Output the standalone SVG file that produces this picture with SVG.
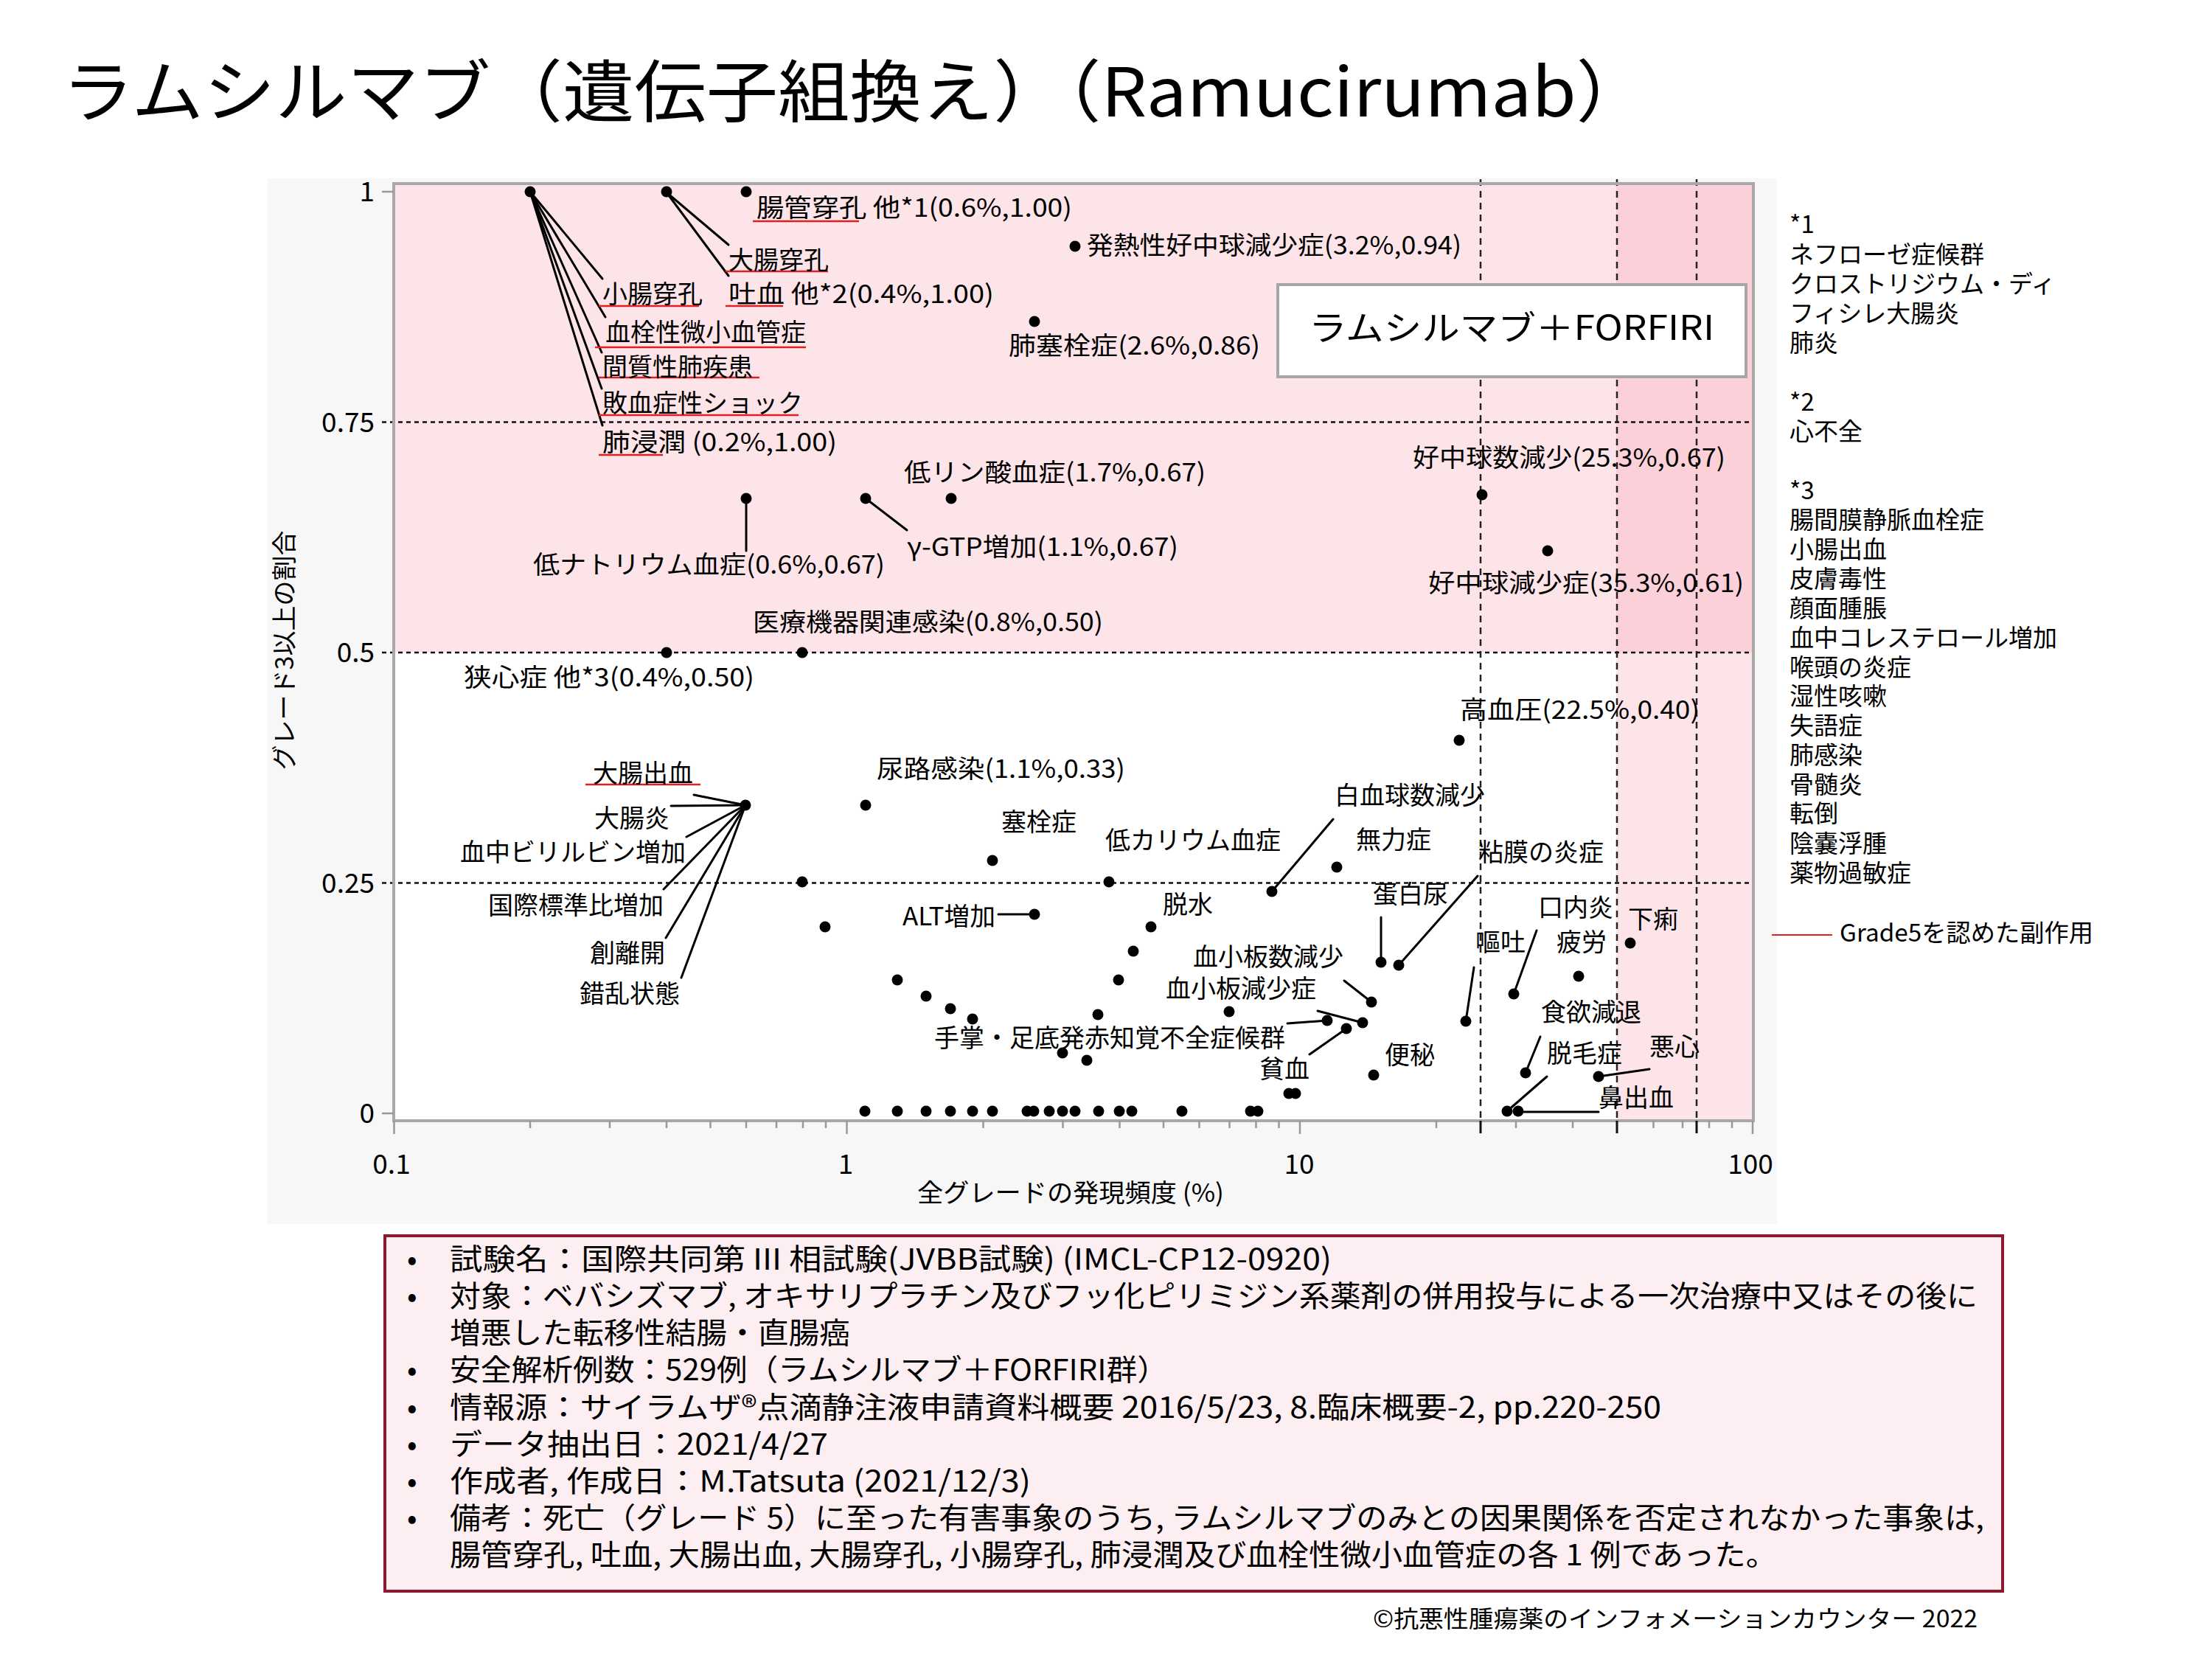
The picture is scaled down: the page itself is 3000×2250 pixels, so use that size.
<svg xmlns="http://www.w3.org/2000/svg" width="3000" height="2250" viewBox="0 0 3000 2250">
<style>
text{font-family:"Noto Sans CJK JP","Noto Sans",sans-serif;fill:#000}
.lbl{font-size:34px}
.tk{font-family:"Noto Sans","Noto Sans CJK JP",sans-serif;font-size:37px}
.leg{font-size:33px}
.info{font-size:40px}
.ld{stroke:#000;stroke-width:3;fill:none;stroke-linecap:round}
.ul{stroke:#e02020;stroke-width:2.5}
.pt{fill:#000}
.hd{stroke:#111;stroke-width:2.5;stroke-dasharray:6 5}
.vd{stroke:#222;stroke-width:2.5;stroke-dasharray:9 7}
.mt{stroke:#999;stroke-width:2.5}
</style>
<rect width="3000" height="2250" fill="#fff"/>
<g id="title"><text x="84" y="158" font-size="92" textLength="2151" lengthAdjust="spacingAndGlyphs">ラムシルマブ（遺伝子組換え）（Ramucirumab）</text></g>

<g id="chart-bg">
<rect x="363" y="242" width="2047" height="1418" fill="#f7f7f7"/>
<rect x="534" y="249" width="1844" height="1271" fill="#fff"/>
<rect x="534" y="249" width="1658" height="636" fill="#fde4e8"/>
<rect x="2192" y="249" width="186" height="636" fill="#fcd0d8"/>
<rect x="2192" y="885" width="186" height="635" fill="#fde4e8"/>
</g>

<g id="gridlines">
<line class="hd" x1="518" y1="572.5" x2="2378" y2="572.5"/>
<line class="hd" x1="518" y1="885" x2="2378" y2="885"/>
<line class="hd" x1="518" y1="1197.5" x2="2378" y2="1197.5"/>
<line class="vd" x1="2008" y1="243" x2="2008" y2="1520"/>
<line class="vd" x1="2193" y1="243" x2="2193" y2="1520"/>
<line class="vd" x1="2301" y1="243" x2="2301" y2="1520"/>
</g>

<g id="axes">
<rect x="534" y="249" width="1844" height="1271" fill="none" stroke="#a8a8a8" stroke-width="4"/>
<g class="mt">
<line x1="518" y1="260" x2="534" y2="260"/>
<line x1="518" y1="1510" x2="534" y2="1510"/>
<line x1="534.5" y1="1520" x2="534.5" y2="1538"/>
<line x1="1148.5" y1="1520" x2="1148.5" y2="1538"/>
<line x1="1763" y1="1520" x2="1763" y2="1538"/>
<line x1="2377" y1="1520" x2="2377" y2="1538"/>
<line x1="719" y1="1520" x2="719" y2="1530"/><line x1="827" y1="1520" x2="827" y2="1530"/><line x1="904" y1="1520" x2="904" y2="1530"/><line x1="963.5" y1="1520" x2="963.5" y2="1530"/><line x1="1012" y1="1520" x2="1012" y2="1530"/><line x1="1053" y1="1520" x2="1053" y2="1530"/><line x1="1089" y1="1520" x2="1089" y2="1530"/><line x1="1120" y1="1520" x2="1120" y2="1530"/>
<line x1="1333.5" y1="1520" x2="1333.5" y2="1530"/><line x1="1441.5" y1="1520" x2="1441.5" y2="1530"/><line x1="1518.5" y1="1520" x2="1518.5" y2="1530"/><line x1="1578" y1="1520" x2="1578" y2="1530"/><line x1="1626.5" y1="1520" x2="1626.5" y2="1530"/><line x1="1667.5" y1="1520" x2="1667.5" y2="1530"/><line x1="1703.5" y1="1520" x2="1703.5" y2="1530"/><line x1="1734.5" y1="1520" x2="1734.5" y2="1530"/>
<line x1="1948" y1="1520" x2="1948" y2="1530"/><line x1="2056" y1="1520" x2="2056" y2="1530"/><line x1="2133" y1="1520" x2="2133" y2="1530"/><line x1="2242.5" y1="1520" x2="2242.5" y2="1530"/><line x1="2282" y1="1520" x2="2282" y2="1530"/><line x1="2318" y1="1520" x2="2318" y2="1530"/><line x1="2349" y1="1520" x2="2349" y2="1530"/>
</g>
<g stroke="#111" stroke-width="3">
<line x1="2008" y1="1520" x2="2008" y2="1537"/>
<line x1="2193" y1="1520" x2="2193" y2="1537"/>
<line x1="2301" y1="1520" x2="2301" y2="1537"/>
</g>
<g class="tk" text-anchor="end">
<text x="508" y="273">1</text>
<text x="508" y="586">0.75</text>
<text x="508" y="898">0.5</text>
<text x="508" y="1211">0.25</text>
<text x="508" y="1523">0</text>
</g>
<g class="tk" text-anchor="middle">
<text x="531" y="1592">0.1</text>
<text x="1147" y="1592">1</text>
<text x="1762" y="1592">10</text>
<text x="2374" y="1592">100</text>
</g>
<text class="lbl" font-size="33" text-anchor="middle" transform="translate(398,882) rotate(-90)">グレード3以上の割合</text>
<text class="lbl" x="1452" y="1630" text-anchor="middle" textLength="416" lengthAdjust="spacingAndGlyphs">全グレードの発現頻度 (%)</text>
</g>

<g id="connectors" class="ld">
<line x1="719" y1="260" x2="817" y2="378"/>
<line x1="719" y1="260" x2="821" y2="430"/>
<line x1="719" y1="260" x2="816" y2="478"/>
<line x1="719" y1="260" x2="816" y2="527"/>
<line x1="719" y1="260" x2="817" y2="577"/>
<line x1="904" y1="261" x2="988" y2="332"/>
<line x1="904" y1="261" x2="988" y2="374"/>
<line x1="1012" y1="676" x2="1012" y2="747"/>
<line x1="1174" y1="676" x2="1230" y2="719"/>
<line x1="1011" y1="1092" x2="941" y2="1078"/>
<line x1="1011" y1="1092" x2="910" y2="1093"/>
<line x1="1011" y1="1092" x2="931" y2="1135"/>
<line x1="1011" y1="1092" x2="900" y2="1206"/>
<line x1="1011" y1="1092" x2="903" y2="1272"/>
<line x1="1011" y1="1092" x2="924" y2="1326"/>
<line x1="1354" y1="1240" x2="1403" y2="1240"/>
<line x1="1725" y1="1209" x2="1808" y2="1111"/>
<line x1="1873" y1="1305" x2="1873" y2="1244"/>
<line x1="1897" y1="1309" x2="2004" y2="1188"/>
<line x1="1823" y1="1330" x2="1860" y2="1359"/>
<line x1="1787" y1="1371" x2="1848" y2="1387"/>
<line x1="1746" y1="1388" x2="1800" y2="1384"/>
<line x1="1776" y1="1430" x2="1826" y2="1395"/>
<line x1="1999" y1="1312" x2="1988" y2="1385"/>
<line x1="2084" y1="1262" x2="2053" y2="1348"/>
<line x1="2089" y1="1406" x2="2069" y2="1455"/>
<line x1="2237" y1="1450" x2="2168" y2="1460"/>
<line x1="2044" y1="1507" x2="2098" y2="1460"/>
<line x1="2067" y1="1508" x2="2168" y2="1508"/>
</g>

<g id="points" class="pt">
<circle cx="719" cy="260" r="7.5"/><circle cx="904" cy="260" r="7.5"/><circle cx="1012" cy="260" r="7.5"/>
<circle cx="1458" cy="334" r="7.5"/><circle cx="1403" cy="436" r="7.5"/>
<circle cx="1012" cy="676" r="7.5"/><circle cx="1174" cy="676" r="7.5"/><circle cx="1290" cy="676" r="7.5"/>
<circle cx="2010" cy="671" r="7.5"/><circle cx="2099" cy="747" r="7.5"/>
<circle cx="904" cy="885" r="7.5"/><circle cx="1088" cy="885" r="7.5"/>
<circle cx="1979" cy="1004" r="7.5"/>
<circle cx="1011" cy="1092" r="7.5"/><circle cx="1174" cy="1092" r="7.5"/>
<circle cx="1346" cy="1167" r="7.5"/><circle cx="1813" cy="1176" r="7.5"/><circle cx="1504" cy="1196" r="7.5"/><circle cx="1088" cy="1196" r="7.5"/>
<circle cx="1725" cy="1209" r="7.5"/><circle cx="1403" cy="1240" r="7.5"/><circle cx="1119" cy="1257" r="7.5"/><circle cx="1561" cy="1257" r="7.5"/>
<circle cx="2211" cy="1279" r="7.5"/><circle cx="1537" cy="1290" r="7.5"/><circle cx="1873" cy="1305" r="7.5"/><circle cx="1897" cy="1309" r="7.5"/>
<circle cx="2141" cy="1324" r="7.5"/><circle cx="1217" cy="1329" r="7.5"/><circle cx="1517" cy="1329" r="7.5"/><circle cx="2053" cy="1348" r="7.5"/>
<circle cx="1256" cy="1351" r="7.5"/><circle cx="1860" cy="1359" r="7.5"/><circle cx="1289" cy="1368" r="7.5"/><circle cx="1667" cy="1372" r="7.5"/>
<circle cx="1489" cy="1376" r="7.5"/><circle cx="1319" cy="1382" r="7.5"/><circle cx="1800" cy="1384" r="7.5"/><circle cx="1988" cy="1385" r="7.5"/>
<circle cx="1848" cy="1387" r="7.5"/><circle cx="1826" cy="1395" r="7.5"/><circle cx="1441" cy="1428" r="7.5"/><circle cx="1474" cy="1438" r="7.5"/>
<circle cx="2069" cy="1455" r="7.5"/><circle cx="1863" cy="1458" r="7.5"/><circle cx="2168" cy="1460" r="7.5"/><circle cx="1748" cy="1483" r="7.5"/><circle cx="1757" cy="1483" r="7.5"/>
<circle cx="1173" cy="1507" r="7.5"/><circle cx="1217" cy="1507" r="7.5"/><circle cx="1256" cy="1507" r="7.5"/><circle cx="1289" cy="1507" r="7.5"/><circle cx="1319" cy="1507" r="7.5"/><circle cx="1346" cy="1507" r="7.5"/>
<circle cx="1393" cy="1507" r="7.5"/><circle cx="1402" cy="1507" r="7.5"/><circle cx="1423" cy="1507" r="7.5"/><circle cx="1441" cy="1507" r="7.5"/><circle cx="1458" cy="1507" r="7.5"/><circle cx="1490" cy="1507" r="7.5"/>
<circle cx="1518" cy="1507" r="7.5"/><circle cx="1535" cy="1507" r="7.5"/><circle cx="1603" cy="1507" r="7.5"/><circle cx="1696" cy="1507" r="7.5"/><circle cx="1706" cy="1507" r="7.5"/>
<circle cx="2044" cy="1507" r="7.5"/><circle cx="2059" cy="1507" r="7.5"/>
</g>

<g id="underlines" class="ul">
<line x1="1021" y1="300" x2="1165" y2="300"/>
<line x1="984" y1="368" x2="1123" y2="368"/>
<line x1="812" y1="415" x2="948" y2="415"/>
<line x1="984" y1="415" x2="1062" y2="415"/>
<line x1="807" y1="471" x2="1093" y2="471"/>
<line x1="812" y1="512" x2="1030" y2="512"/>
<line x1="812" y1="563" x2="1083" y2="563"/>
<line x1="812" y1="617" x2="899" y2="617"/>
<line x1="794" y1="1064" x2="950" y2="1064"/>
</g>

<g id="labels" class="lbl">
<g id="n-chokan"><text x="1026" y="294" textLength="428" lengthAdjust="spacingAndGlyphs">腸管穿孔 他*1(0.6%,1.00)</text></g>
<g id="n-daicho-senko"><text x="988" y="365">大腸穿孔</text></g>
<g id="n-shocho-senko"><text x="817" y="411">小腸穿孔</text></g>
<g id="n-toketsu"><text x="988" y="411" textLength="360" lengthAdjust="spacingAndGlyphs">吐血 他*2(0.4%,1.00)</text></g>
<g id="n-kessen"><text x="821" y="463">血栓性微小血管症</text></g>
<g id="n-kanshitsu"><text x="817" y="510">間質性肺疾患</text></g>
<g id="n-haiketsu"><text x="817" y="559">敗血症性ショック</text></g>
<g id="n-haishinjun"><text x="817" y="612" textLength="318" lengthAdjust="spacingAndGlyphs">肺浸潤 (0.2%,1.00)</text></g>
<g id="n-hatsunetsu"><text x="1474" y="345" textLength="508" lengthAdjust="spacingAndGlyphs">発熱性好中球減少症(3.2%,0.94)</text></g>
<g id="n-haisokusen"><text x="1368" y="481" textLength="341" lengthAdjust="spacingAndGlyphs">肺塞栓症(2.6%,0.86)</text></g>
<g id="n-teirin"><text x="1226" y="653" textLength="409" lengthAdjust="spacingAndGlyphs">低リン酸血症(1.7%,0.67)</text></g>
<g id="n-ggtp"><text x="1230" y="754" textLength="368" lengthAdjust="spacingAndGlyphs">γ-GTP増加(1.1%,0.67)</text></g>
<g id="n-teina"><text x="723" y="778" textLength="477" lengthAdjust="spacingAndGlyphs">低ナトリウム血症(0.6%,0.67)</text></g>
<g id="n-kochukyusu"><text x="1916" y="633" textLength="424" lengthAdjust="spacingAndGlyphs">好中球数減少(25.3%,0.67)</text></g>
<g id="n-kochukyu"><text x="1937" y="803" textLength="428" lengthAdjust="spacingAndGlyphs">好中球減少症(35.3%,0.61)</text></g>
<g id="n-iryo"><text x="1021" y="856" textLength="475" lengthAdjust="spacingAndGlyphs">医療機器関連感染(0.8%,0.50)</text></g>
<g id="n-kyoshin"><text x="629" y="931" textLength="394" lengthAdjust="spacingAndGlyphs">狭心症 他*3(0.4%,0.50)</text></g>
<g id="n-koketsuatsu"><text x="1980" y="975" textLength="325" lengthAdjust="spacingAndGlyphs">高血圧(22.5%,0.40)</text></g>
<g id="n-nyoro"><text x="1189" y="1055" textLength="337" lengthAdjust="spacingAndGlyphs">尿路感染(1.1%,0.33)</text></g>
<g id="n-daicho-shukketsu"><text x="804" y="1061">大腸出血</text></g>
<g id="n-daichoen"><text x="806" y="1122">大腸炎</text></g>
<g id="n-bilirubin"><text x="624" y="1168">血中ビリルビン増加</text></g>
<g id="n-kokusai"><text x="662" y="1240">国際標準比増加</text></g>
<g id="n-sorikai"><text x="800" y="1305">創離開</text></g>
<g id="n-sakuran"><text x="786" y="1360">錯乱状態</text></g>
<g id="n-sokusen"><text x="1358" y="1127">塞栓症</text></g>
<g id="n-teikarium"><text x="1499" y="1152">低カリウム血症</text></g>
<g id="n-hakkekkyu"><text x="1810" y="1091">白血球数減少</text></g>
<g id="n-muryoku"><text x="1839" y="1151">無力症</text></g>
<g id="n-nenmaku"><text x="2005" y="1168">粘膜の炎症</text></g>
<g id="n-tanpaku"><text x="1862" y="1225">蛋白尿</text></g>
<g id="n-alt"><text x="1224" y="1255" textLength="126" lengthAdjust="spacingAndGlyphs">ALT増加</text></g>
<g id="n-dassui"><text x="1577" y="1239">脱水</text></g>
<g id="n-konaien"><text x="2086" y="1243">口内炎</text></g>
<g id="n-geri"><text x="2208" y="1259">下痢</text></g>
<g id="n-oto"><text x="2001" y="1290">嘔吐</text></g>
<g id="n-hiro"><text x="2111" y="1290">疲労</text></g>
<g id="n-kesshoban-su"><text x="1618" y="1310">血小板数減少</text></g>
<g id="n-kesshoban"><text x="1581" y="1353">血小板減少症</text></g>
<g id="n-shokuyoku"><text x="2090" y="1385">食欲減退</text></g>
<g id="n-hff"><text x="1267" y="1420">手掌・足底発赤知覚不全症候群</text></g>
<g id="n-oshin"><text x="2237" y="1432">悪心</text></g>
<g id="n-datsumo"><text x="2098" y="1441">脱毛症</text></g>
<g id="n-benpi"><text x="1878" y="1443">便秘</text></g>
<g id="n-hinketsu"><text x="1708" y="1462">貧血</text></g>
<g id="n-bishukketsu"><text x="2168" y="1501">鼻出血</text></g>
</g>

<g id="regimen-box">
<rect x="1733" y="386" width="635" height="125" fill="#fff" stroke="#a6a6a6" stroke-width="4"/>
<text x="1775" y="461" font-size="46" textLength="550" lengthAdjust="spacingAndGlyphs">ラムシルマブ＋FORFIRI</text>
</g>

<g id="legend" class="leg">
<text x="2427" y="316">*1</text>
<text x="2427" y="357">ネフローゼ症候群</text>
<text x="2427" y="397">クロストリジウム・ディ</text>
<text x="2427" y="437">フィシレ大腸炎</text>
<text x="2427" y="477">肺炎</text>
<text x="2427" y="557">*2</text>
<text x="2427" y="597">心不全</text>
<text x="2427" y="677">*3</text>
<text x="2427" y="717">腸間膜静脈血栓症</text>
<text x="2427" y="757">小腸出血</text>
<text x="2427" y="797">皮膚毒性</text>
<text x="2427" y="837">顔面腫脹</text>
<text x="2427" y="877">血中コレステロール増加</text>
<text x="2427" y="917">喉頭の炎症</text>
<text x="2427" y="956">湿性咳嗽</text>
<text x="2427" y="996">失語症</text>
<text x="2427" y="1036">肺感染</text>
<text x="2427" y="1076">骨髄炎</text>
<text x="2427" y="1115">転倒</text>
<text x="2427" y="1156">陰嚢浮腫</text>
<text x="2427" y="1196">薬物過敏症</text>
<line x1="2403" y1="1268" x2="2485" y2="1268" stroke="#e02020" stroke-width="2"/>
<text x="2495" y="1277" textLength="344" lengthAdjust="spacingAndGlyphs">Grade5を認めた副作用</text>
</g>

<g id="info-box">
<rect x="522" y="1676" width="2194" height="482" fill="#fdeef1" stroke="#8b1a2e" stroke-width="4"/>
<g class="info">
<text x="552" y="1722">•</text>
<text x="610" y="1722" textLength="1196" lengthAdjust="spacingAndGlyphs">試験名：国際共同第 III 相試験(JVBB試験) (IMCL-CP12-0920)</text>
<text x="552" y="1772">•</text>
<text x="610" y="1772" textLength="2072" lengthAdjust="spacingAndGlyphs">対象：ベバシズマブ, オキサリプラチン及びフッ化ピリミジン系薬剤の併用投与による一次治療中又はその後に</text>
<text x="610" y="1822" textLength="543" lengthAdjust="spacingAndGlyphs">増悪した転移性結腸・直腸癌</text>
<text x="552" y="1872">•</text>
<text x="610" y="1872" textLength="974" lengthAdjust="spacingAndGlyphs">安全解析例数：529例（ラムシルマブ＋FORFIRI群）</text>
<text x="552" y="1923">•</text>
<text x="610" y="1923" textLength="1643" lengthAdjust="spacingAndGlyphs">情報源：サイラムザ®点滴静注液申請資料概要 2016/5/23, 8.臨床概要-2, pp.220-250</text>
<text x="552" y="1973">•</text>
<text x="610" y="1973" textLength="513" lengthAdjust="spacingAndGlyphs">データ抽出日：2021/4/27</text>
<text x="552" y="2023">•</text>
<text x="610" y="2023" textLength="788" lengthAdjust="spacingAndGlyphs">作成者, 作成日：M.Tatsuta (2021/12/3)</text>
<text x="552" y="2073">•</text>
<text x="610" y="2073" textLength="2081" lengthAdjust="spacingAndGlyphs">備考：死亡（グレード 5）に至った有害事象のうち, ラムシルマブのみとの因果関係を否定されなかった事象は,</text>
<text x="610" y="2123" textLength="1800" lengthAdjust="spacingAndGlyphs">腸管穿孔, 吐血, 大腸出血, 大腸穿孔, 小腸穿孔, 肺浸潤及び血栓性微小血管症の各 1 例であった。</text>
</g>
</g>

<g id="footer"><text x="1862" y="2207" font-size="32" textLength="820" lengthAdjust="spacingAndGlyphs">©抗悪性腫瘍薬のインフォメーションカウンター 2022</text></g>
</svg>
